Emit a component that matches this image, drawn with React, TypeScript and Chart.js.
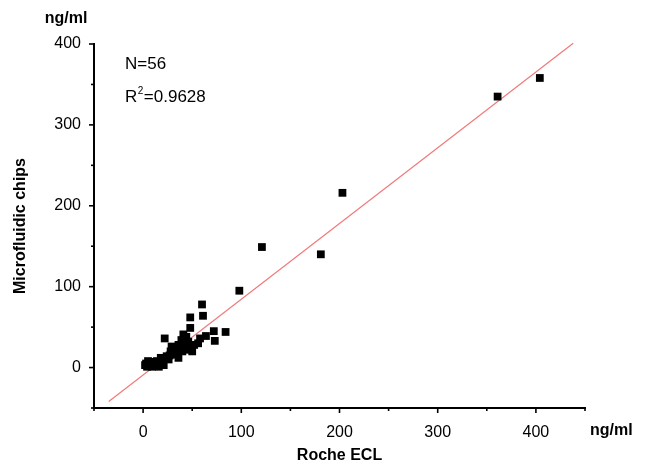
import React, { useEffect, useRef } from "react";
import { Chart, registerables } from "chart.js";

Chart.register(...registerables);

const rocheECL = [404, 361, 203, 181, 121, 98, 60, 61, 48, 84, 72, 73, 64, 58, 56, 22, 48, 41, 39, 46, 48, 50, 44, 38, 29, 28, 31, 24, 19, 17, 14, 10, 7, 5, 4, 9, 21, 16, 34, 36, 42, 26, 12, 3, 6, 33, 44, 52, 20, 13, 27, 40, 8, 2, 18, 36];
const microfluidic = [358, 335, 216, 140, 149, 95, 78, 64, 62, 44, 45, 33, 39, 36, 30, 36, 49, 41, 34, 32, 26, 20, 22, 24, 26, 20, 16, 14, 11, 5, 8, 5, 3, 8, 1, 1, 3, 1, 18, 28, 30, 10, 3, 5, 4, 22, 38, 28, 8, 6, 15, 20, 7, 3, 12, 12];
const fitX = [-35, 438];
const fitY = [-42, 401];
const xTickValues = [-50, 0, 50, 100, 150, 200, 250, 300, 350, 400, 450];
const yTickValues = [-50, 0, 50, 100, 150, 200, 250, 300, 350, 400];
const xTitle = "Roche ECL";
const yTitle = "Microfluidic chips";
const unitLabel = "ng/ml";
const nText = "N=56";
const r2Value = "=0.9628";

const FONT = "'Liberation Sans', Arial, sans-serif";

export default function App() {
  const ref = useRef<HTMLCanvasElement | null>(null);
  useEffect(() => {
    document.body.style.margin = "0";
    const canvas = ref.current!;
    const decor = {
      id: "decor",
      afterDraw(chart: any) {
        const ctx = chart.ctx;
        const xs = chart.scales.x;
        const ys = chart.scales.y;
        ctx.save();
        ctx.strokeStyle = "#000";
        ctx.lineWidth = 1.6;
        for (const v of xTickValues) {
          const px = xs.getPixelForValue(v);
          const len = v % 100 === 0 ? 5 : 3;
          ctx.beginPath();
          ctx.moveTo(px, ys.bottom);
          ctx.lineTo(px, ys.bottom + len);
          ctx.stroke();
        }
        for (const v of yTickValues) {
          const py = ys.getPixelForValue(v);
          const len = v % 100 === 0 ? 5 : 3;
          ctx.beginPath();
          ctx.moveTo(xs.left, py);
          ctx.lineTo(xs.left - len, py);
          ctx.stroke();
        }
        ctx.fillStyle = "#000";
        ctx.font = `bold 16px ${FONT}`;
        ctx.textAlign = "center";
        ctx.textBaseline = "middle";
        ctx.fillText(xTitle, (xs.left + xs.right) / 2, 456);
        ctx.fillText(unitLabel, 66, 19);
        ctx.textAlign = "left";
        ctx.fillText(unitLabel, 590, 431);
        ctx.save();
        ctx.translate(21, (ys.top + ys.bottom) / 2);
        ctx.rotate(-Math.PI / 2);
        ctx.textAlign = "center";
        ctx.fillText(yTitle, 0, 0);
        ctx.restore();
        ctx.font = `17px ${FONT}`;
        ctx.textAlign = "left";
        ctx.fillText(nText, 125, 64);
        ctx.fillText("R", 125, 97);
        const rw = ctx.measureText("R").width;
        ctx.font = `10px ${FONT}`;
        ctx.fillText("2", 125 + rw + 0.5, 91);
        const sw = ctx.measureText("2").width;
        ctx.font = `17px ${FONT}`;
        ctx.fillText(r2Value, 125 + rw + sw + 1, 97);
        ctx.restore();
      },
    };
    const chart = new Chart(canvas, {
      type: "scatter",
      data: {
        datasets: [
          {
            type: "line",
            data: fitX.map((x, i) => ({ x, y: fitY[i] })),
            borderColor: "#f07a7a",
            borderWidth: 1.2,
            pointRadius: 0,
            fill: false,
            clip: false as any,
            order: 2,
          } as any,
          {
            data: rocheECL.map((x, i) => ({ x, y: microfluidic[i] })),
            pointStyle: "rect",
            pointRadius: 5.5,
            backgroundColor: "#000",
            borderColor: "#000",
            borderWidth: 0,
            order: 1,
          },
        ],
      },
      options: {
        responsive: false,
        animation: false,
        layout: { padding: { top: 44, right: 63, left: 0, bottom: 0 } },
        plugins: { legend: { display: false }, tooltip: { enabled: false } },
        scales: {
          x: {
            type: "linear",
            min: -50,
            max: 450,
            afterFit: (s: any) => { s.height = 64; },
            border: { display: true, color: "#000", width: 2 },
            grid: { display: false, drawTicks: false },
            ticks: {
              stepSize: 50,
              padding: 15,
              color: "#000",
              font: { family: FONT, size: 16 },
              maxRotation: 0,
              autoSkip: false,
              callback: (v: any) => (Number(v) % 100 === 0 ? String(v) : ""),
            },
          },
          y: {
            type: "linear",
            min: -50,
            max: 400,
            afterFit: (s: any) => { s.width = 94; },
            border: { display: true, color: "#000", width: 2 },
            grid: { display: false, drawTicks: false },
            ticks: {
              stepSize: 50,
              padding: 13,
              color: "#000",
              font: { family: FONT, size: 16 },
              autoSkip: false,
              callback: (v: any) => (Number(v) % 100 === 0 ? String(v) : ""),
            },
          },
        },
      },
      plugins: [decor],
    });
    return () => chart.destroy();
  }, []);
  return <canvas ref={ref} width={648} height={472} style={{ display: "block" }} />;
}
